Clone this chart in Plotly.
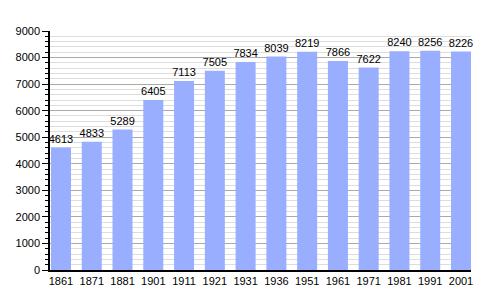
import plotly.graph_objects as go

years = ["1861", "1871", "1881", "1901", "1911", "1921", "1931", "1936",
         "1951", "1961", "1971", "1981", "1991", "2001"]
population = [4613, 4833, 5289, 6405, 7113, 7505, 7834, 8039,
              8219, 7866, 7622, 8240, 8256, 8226]

fig = go.Figure(go.Bar(
    x=years, y=population,
    marker=dict(color="#99AEFF", line=dict(width=0)),
    width=0.65,
    text=[str(v) for v in population],
    textposition="outside",
    constraintext="none",
    textfont=dict(family="Liberation Sans, Arial", size=11, color="black"),
    cliponaxis=False,
))

fig.update_layout(
    width=500, height=300,
    margin=dict(l=50, r=29, t=31, b=30),
    paper_bgcolor="white", plot_bgcolor="white",
    font=dict(family="Liberation Sans, Arial", size=11, color="black"),
    showlegend=False,
    bargap=0.35,
)
fig.update_xaxes(
    type="category",
    range=[-0.357, 13.325],
    showline=True, linecolor="black", linewidth=1.5,
    ticks="", showgrid=False,
    tickfont=dict(size=11, color="black"),
)
fig.update_yaxes(
    range=[0, 9000], dtick=1000, tick0=0,
    showline=True, linecolor="black", linewidth=1.5,
    ticks="outside", ticklen=6, tickcolor="black", tickwidth=1,
    gridcolor="#AAAAAA", gridwidth=1,
    zeroline=False,
    tickfont=dict(size=11, color="black"),
    minor=dict(dtick=200, ticks="outside", ticklen=3, tickcolor="black",
               showgrid=True, gridcolor="#DDDDDD", gridwidth=1),
)

fig.write_html("out.html")
